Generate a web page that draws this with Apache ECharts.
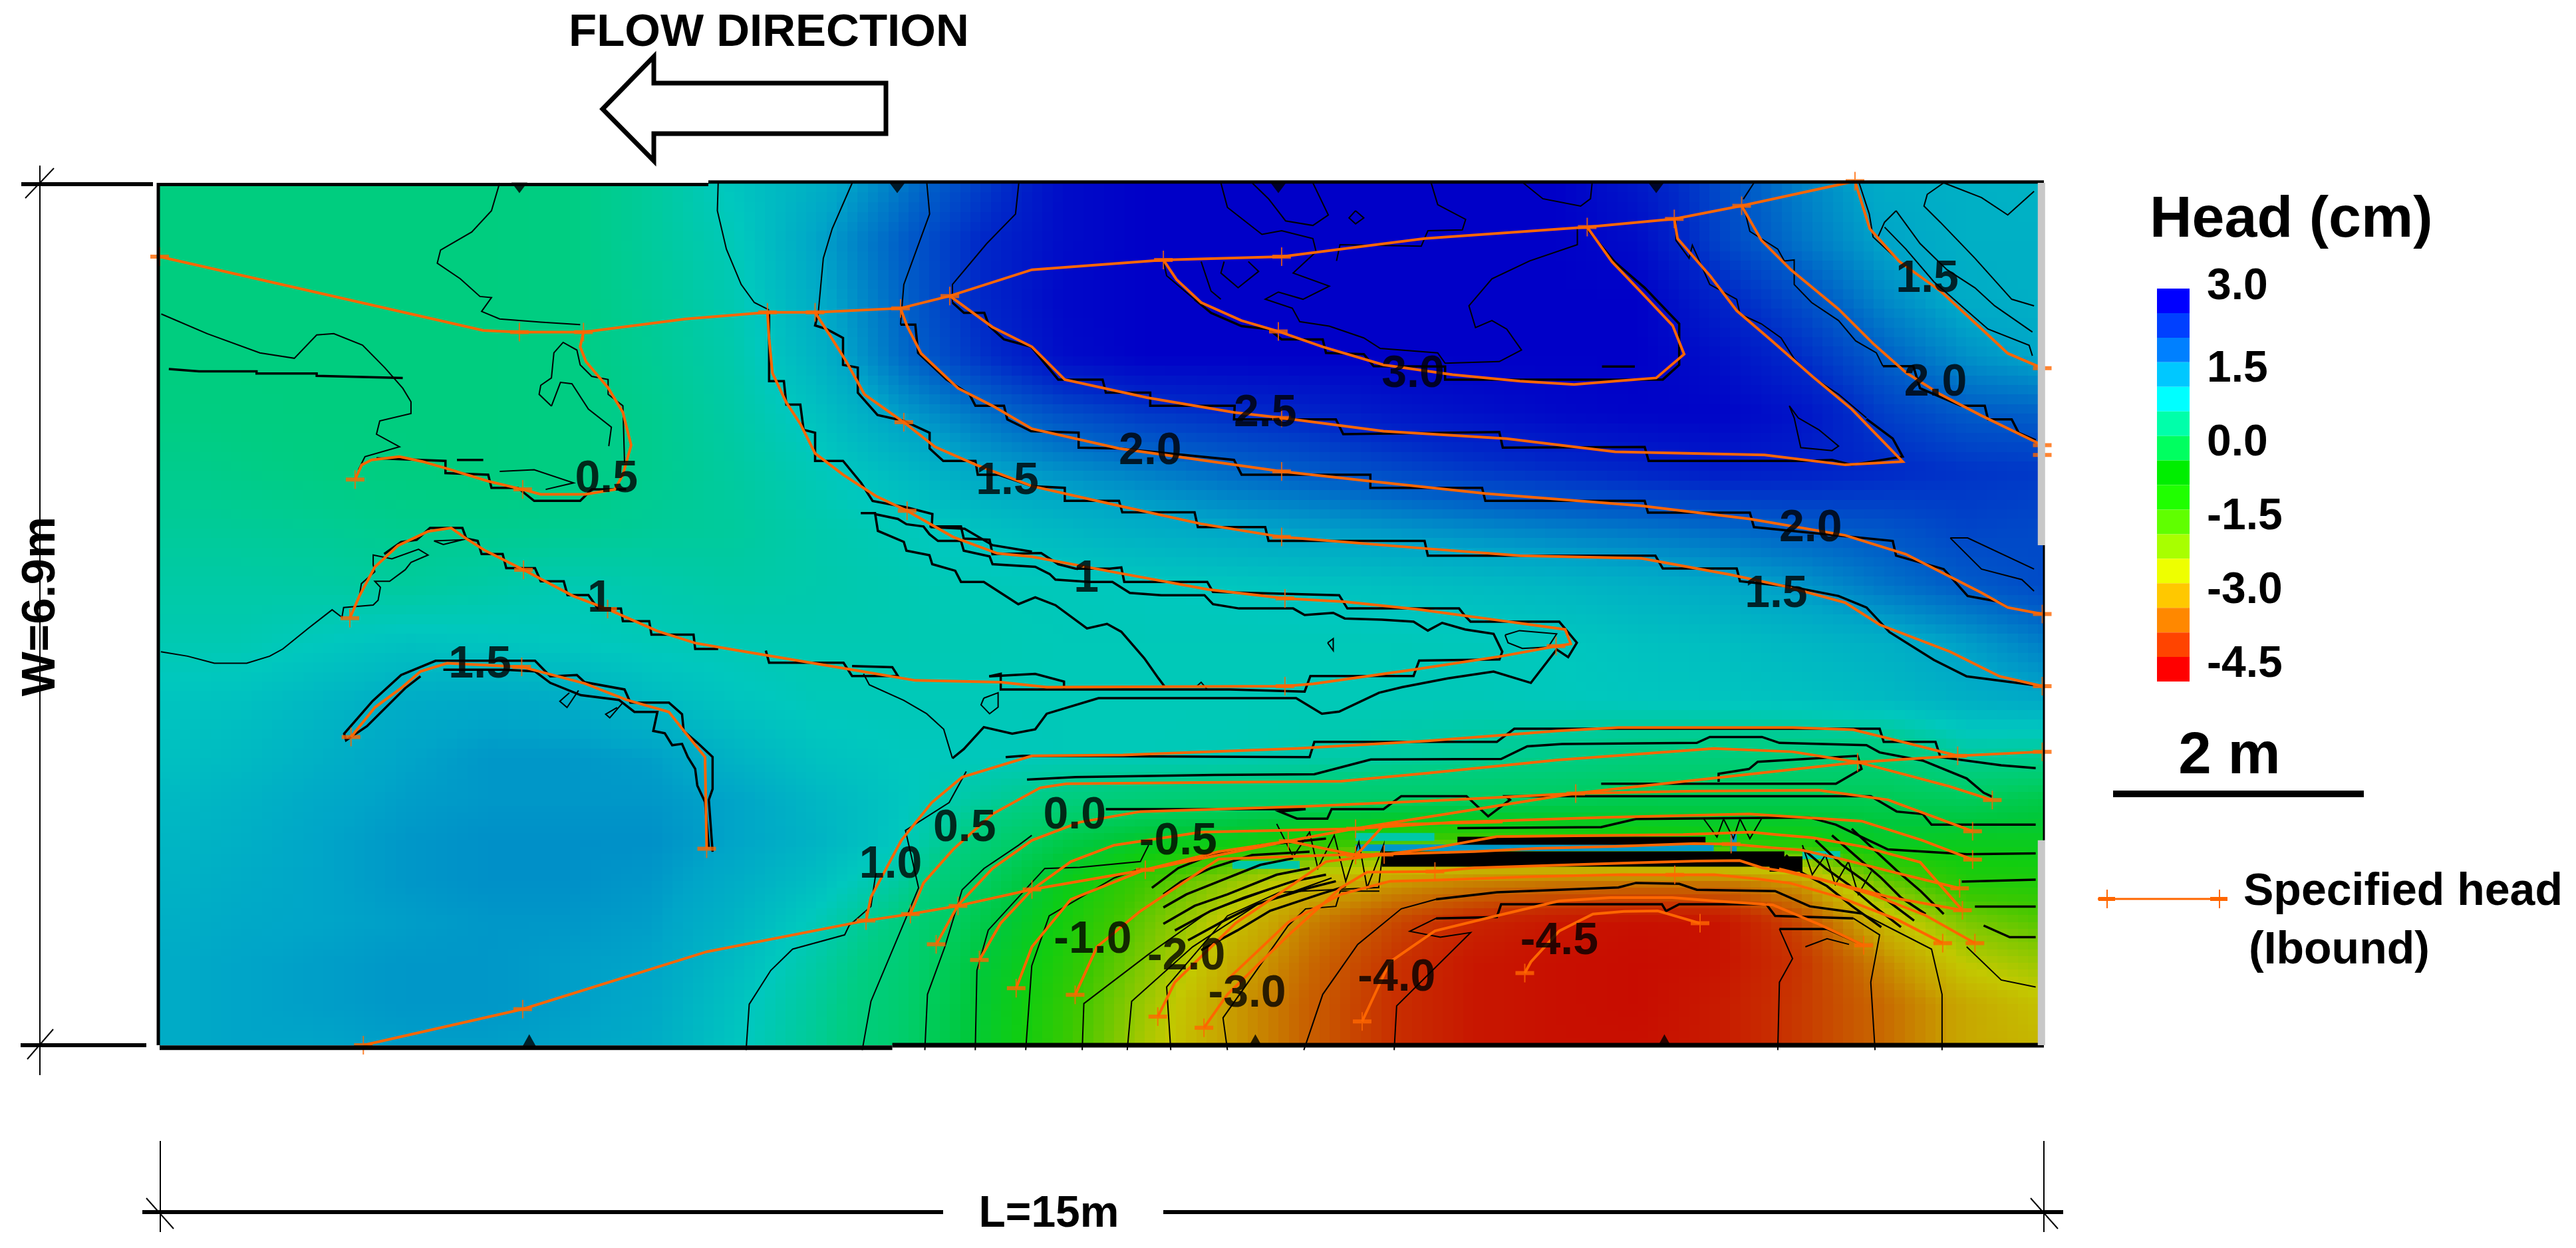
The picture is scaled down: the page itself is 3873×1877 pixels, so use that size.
<!DOCTYPE html>
<html>
<head>
<meta charset="utf-8">
<title>Head (cm)</title>
<style>
  html, body { margin: 0; padding: 0; background: #fff; }
  #chart { width: 3873px; height: 1877px; }
</style>
<script src="https://cdn.jsdelivr.net/npm/echarts@6/dist/echarts.min.js"></script>
</head>
<body>
<div id="chart"></div>
<script>
// axis units: 1147 along L=15m, 526 along W=6.9m
const fieldCols = [0, 50, 100, 150, 200, 250, 300, 350, 400, 450, 500, 550, 600, 650, 700, 750, 800, 850, 900, 950, 1000, 1050, 1100, 1150];
const fieldRows = [526, 490, 455, 420, 385, 350, 315, 280, 245, 210, 175, 150, 125, 100, 75, 50, 25, 0];

const headRows = [
  [.45,.45,.45,.45,.45,.5,.72,1.05,1.35,1.8,2.3,2.85,3,3,3,3,3,3,2.7,2.2,1.75,1.4,1.35,1.3],
  [.45,.45,.45,.45,.45,.5,.72,.95,1.5,2,2.5,2.85,3,3,3,3,3,3,2.85,2.25,1.85,1.5,1.35,1.35],
  [.45,.45,.45,.45,.45,.5,.68,.9,1.4,1.95,2.5,2.9,3,3,3,3,3,3,3,2.55,2.15,1.7,1.4,1.35],
  [.45,.45,.45,.45,.45,.5,.65,.85,1.3,1.9,2.4,2.85,3,3,3,3,3,3,3,2.8,2.45,2,1.65,1.45],
  [.5,.47,.45,.45,.45,.5,.6,.8,1.1,1.55,1.85,2.15,2.35,2.45,2.55,2.7,2.8,2.9,2.95,2.95,2.75,2.3,2.05,2],
  [.6,.55,.5,.47,.45,.5,.6,.75,.95,1.2,1.48,1.65,1.78,1.92,2.05,2.2,2.35,2.45,2.55,2.65,2.6,2.5,2.4,2.35],
  [.7,.68,.65,.6,.6,.62,.68,.72,.85,.95,1.1,1.25,1.38,1.48,1.55,1.62,1.7,1.78,1.85,1.93,2.02,2.1,2.25,2.2],
  [.8,.8,.78,.72,.8,.9,.85,.8,.85,.9,.95,.97,1,1.02,1.07,1.12,1.18,1.25,1.35,1.45,1.6,1.85,2.05,2.2],
  [.9,.9,1,1.1,1.05,1,.95,.92,.9,.9,.92,.95,.95,.95,.95,.95,.97,1,1.1,1.15,1.25,1.35,1.55,1.8],
  [1.05,1.1,1.25,1.4,1.45,1.4,1.2,1.05,.95,.95,.95,.95,.95,.95,.95,.95,.95,.98,1.02,1.05,1.1,1.2,1.35,1.45],
  [1.1,1.2,1.35,1.5,1.6,1.6,1.55,1.3,1.1,1,.98,.95,.95,.92,.85,.75,.65,.55,.4,.35,.35,.3,.7,.6],
  [1.2,1.3,1.45,1.55,1.6,1.6,1.6,1.5,1.25,1.05,.75,.45,.3,.2,.12,.05,0,-.1,-.2,-.2,-.2,-.2,-.1,-.35],
  [1.25,1.35,1.5,1.6,1.65,1.65,1.65,1.5,1.3,1.02,.35,-.3,-.7,-.85,-1.2,-1.5,-1.6,-1.4,-1.2,-1.1,-1.1,-.7,-.8,-.8],
  [1.3,1.4,1.5,1.6,1.65,1.65,1.6,1.4,1.15,.75,0,-.85,-1.5,-2.1,-2.7,-3,-3.2,-3.3,-3.3,-3.3,-3,-1.8,-1.2,-1.15],
  [1.35,1.45,1.5,1.55,1.6,1.6,1.55,1.3,.95,.45,-.3,-1.05,-1.8,-2.55,-3.25,-3.75,-4.15,-4.35,-4.45,-4.4,-3.75,-2.7,-1.95,-1.65],
  [1.4,1.5,1.55,1.6,1.6,1.55,1.5,1.2,.8,.3,-.5,-1.2,-2,-2.8,-3.45,-3.95,-4.35,-4.45,-4.5,-4.4,-3.95,-3.2,-2.45,-2.15],
  [1.4,1.5,1.55,1.6,1.6,1.55,1.45,1.1,.7,.2,-.6,-1.35,-2.2,-3,-3.55,-4,-4.35,-4.45,-4.5,-4.3,-3.9,-3.45,-2.9,-2.55],
  [1.4,1.5,1.5,1.55,1.55,1.5,1.4,1.05,.65,.15,-.65,-1.4,-2.3,-3,-3.55,-4,-4.35,-4.45,-4.45,-4.3,-3.9,-3.45,-2.9,-2.7]
];

// colour of the field against head
const fieldStops = [
  [-4.5,[200,12,0]],[-4,[200,48,0]],[-3.5,[200,100,0]],[-3,[200,160,0]],[-2.5,[195,200,0]],[-2,[130,200,0]],
  [-1.5,[60,200,0]],[-1,[16,205,16]],[-.5,[0,200,60]],[0,[0,205,100]],[.5,[0,205,130]],[1,[0,200,190]],
  [1.5,[0,165,200]],[2,[0,96,200]],[2.5,[0,40,200]],[3,[0,0,200]]
];

// colour bar, top to bottom
const legendLabels = ["3.0", "", "", "1.5", "", "", "0.0", "", "", "-1.5", "", "", "-3.0", "", "", "-4.5"];
const legendColors = ["#0000ff","#0040ff","#0080ff","#00c8ff","#00ffff","#00ffaa","#00ff60","#00ee00","#20ff00","#60ff00","#a8ff00","#eeff00","#ffc800","#ff8800","#ff4400","#ff0000"];

const contourLabels = [
  [272,345,"0.5"],[268,272,"1"],[195,232,"1.5"],[516,344,"1.5"],[603,362,"2.0"],[673,385,"2.5"],[763,409,"3.0"],
  [1076,467,"1.5"],[1081,404,"2.0"],[1005,315,"2.0"],[984,275,"1.5"],[564,284,"1"],[445,110,"1.0"],[490,132,"0.5"],
  [557,140,"0.0"],[620,124,"-0.5"],[568,64,"-1.0"],[625,54,"-2.0"],[662,31,"-3.0"],[753,41,"-4.0"],[852,63,"-4.5"]
];

const topSensors = [[219,523],[449,523],[681,523],[911,523]];
const bottomSensors = [[225,3],[667,3],[916,3]];

// specified head (Ibound)
const headLines = [
  [[0,481],[197,436],[219,435],[258,435],[320,443],[370,447],[399,447],[451,449.5],[481,457],[531,473],[611,479],[683,481],[770,492],[869,499],[922,504],[963,512],[1032,527]],
  [[258,435],[256,426],[259.5,417],[273,401],[282,386],[287,366],[282,348],[277,339],[259,336],[232,336],[221,339],[200,344],[174,352],[160,356],[146,359],[129,357],[123,354],[119,345]],
  [[370,447],[371,431],[373,410],[381.5,392],[390,379],[399,361],[416,348],[436,335],[455,326],[483,310],[510,300],[531,298],[584,288],[638,278],[685,272.5],[721.4,270.5],[766.7,265.7],[812,259.6],[855.6,253.6],[859,244.8],[850.4,243.4],[817,237.3],[763,229],[702.2,220.4],[685,219],[540,218.4],[512,221.4],[460,222.5],[421.5,229],[348.3,241.4],[326,245.3],[303,252.6],[272.7,266],[251.7,274],[221.5,290],[198,301.8],[186.7,309],[177.4,315.5],[163.4,313.4],[145,304.7],[131,291.7],[121.6,274],[115.8,260.5]],
  [[399,447],[408,433],[418,417],[429,397],[453,380],[472,365],[497,354],[531,341],[584,329],[634,318],[683,310],[770,303],[828,298.6],[902,297],[956,287],[989,280],[1026,270],[1047,256.5],[1090,240],[1120,225],[1146,219]],
  [[451,449.5],[455,438.6],[463.5,422],[486,400.7],[507,390],[531,376],[584,364],[683,350],[737,344],[807,336.5],[902,329],[968,321],[1026,311],[1063,299.5],[1109,276],[1125,267],[1146,263]],
  [[481,457],[507,438],[531,426],[551,406],[601,395],[654,386],[683,382.6],[745,374.5],[820,370],[886,362],[977,360],[1026,354],[1061,356],[1030,388],[1006,408],[981,430],[960,448],[944,469],[924,492],[922,504]],
  [[869,499],[884,478],[904,457],[921,439],[928,421.5],[911,407],[886,405],[861,403],[828,405],[787,409],[745,415],[708,426],[681,435.4],[658.5,442],[634,453],[619,467],[611,479]],
  [[963,512],[975,491],[993,473],[1022,449],[1043,428],[1063.4,410],[1084,397],[1109,384],[1146,366]],
  [[1032,527],[1041,498],[1059,478],[1084,460],[1109,437],[1125,422],[1146,413]],
  [[116.5,188],[131,206],[147,217.8],[158.8,228],[175,233],[220.4,230.8],[258.7,220.7],[284.3,210.6],[310,203.3],[321.5,188.8],[332,175.8],[333,119.8]],
  [[124,0],[221,22],[333,57],[430,76],[457,80],[486,85],[531,95],[600,107],[687,124.5],[727,132],[861.6,153.6],[1033.6,172.6],[1094.5,176.5],[1146,179]],
  [[430,76],[433,90.4],[451.5,125],[470,148],[488.5,163.5],[531,176.5],[586.4,177],[692,181],[772,185.6],[851,191.7],[888,193.8],[994,193.8],[1031,192.4],[1057.4,185.9],[1094.5,176.5]],
  [[457,80],[465,99],[483,119.4],[507,141],[536,157],[552,159.5],[719,161],[772,166],[851,174],[946,181],[994,179],[1034,172.6],[1089,158],[1115.6,149.5]],
  [[472.7,61.5],[486,85.4],[507,107.8],[531,125],[560,136],[597,142.5],[698,145.7],[788,149.7],[862,153.6],[936,155],[1010,155.5],[1052,149.7],[1103.6,130.5]],
  [[499,52],[512,74.5],[531,94.8],[554.7,112],[581,122],[634,130],[727,132],[787.5,136],[877.5,138.9],[967.5,141],[1036,136.7],[1073,125],[1103.6,113.2]],
  [[521.4,34.8],[531,60],[554.7,89],[599.7,107],[644.7,118],[687,124.5],[728,116],[800.4,118.1],[838,120],[886,121.3],[934,123],[956.6,122.7],[982.4,120.4],[999.5,119],[1023.6,113.6],[1058,104.9],[1095.7,95.7]],
  [[557.3,30.7],[570.6,60],[597,81.8],[644.7,113.6],[729,116.5],[745.4,134.6],[817.5,136.2]],
  [[607.6,17.4],[618,38.4],[655,74.5],[687,96.2],[710,112],[745.4,116.3],[776.3,120.4],[814,127.2],[927.4,128.5],[968.7,130],[984,128.5],[1006.4,126.5],[1037.3,121],[1071.7,111.6],[1097.4,82.3]],
  [[635.7,10.6],[650,31],[687,67],[719,96],[735,105.5],[776.3,106],[800.4,108.2],[845,109.6],[889.6,111],[936,112.3],[961.8,112.6],[975.5,108.2],[989.3,106],[1023.6,98],[1054.5,90],[1097.4,82.3]],
  [[650,40],[687,75],[719,92],[748.9,100],[779.8,100.8],[834.7,102.8],[889.6,104],[922.3,103.9],[946.3,104],[972,101.5],[992.7,98.8],[1023.6,90],[1058,76.5],[1085.4,62.3]],
  [[985.8,107.6],[1013,100.8],[1044,91.3],[1075,79.2],[1105,62.3]],
  [[732,14.5],[748.9,50.8],[776.3,69.7],[814,79],[852,88],[883,90],[920.6,90],[946.3,88],[982,85.6],[1010,73.8],[1037.3,60.9]],
  [[831,44],[834.7,50.8],[852,69.7],[872.5,80],[891.4,81.6],[912,81.9],[937.7,74.4]]
];

const headNodes = [
  [0,481],[219,435],[258,435],[370,447],[399,447],[451,449.5],[481,457],[611,479],[683,481],[869,499],[922,504],[963,512],[1032,527],
  [119,345],[221,339],[455,326],[453,380],[681,435.4],[683,382.6],[683,350],[683,310],[685,272.5],[685,219],[850,243.4],
  [115.8,260.5],[221.5,290],[272.7,266],[116.5,188],[220.4,230.8],[333,119.8],[124,0],[221,22],[430,76],[457,80],[486,85],
  [472.7,61.5],[499,52],[531,95],[521.4,34.8],[557.3,30.7],[607.6,17.4],[635.7,10.6],[732,14.5],[831,44],[600,107],[687,124.5],
  [728,132],[862,153.5],[1033.6,172.6],[1094.5,176.5],[1146,179],[1115.6,149.5],[1103.6,130.5],[1103.6,113.2],[1095.7,95.7],
  [1097.4,82.3],[1085.4,62.3],[1105,62.3],[1037.3,60.9],[937.7,74.4],[728,116],[745.4,116.3],[776.3,106],[922.3,103.9],[956.6,122.7],
  [1146,413],[1146,366],[1146,360],[1146,263],[1146,219]
];

// thin black contours
const thinContours = [
  [[207,526],[202,509],[190,496],[171,485],[169,477],[183,467.5],[195,456.7],[202,456],[196,447.6],[207,443],[232,441],[256,439.5]],
  [[1,446],[29,434],[61,422.3],[82,419],[95.6,433.2],[106,434],[123.5,427],[137,413.3],[148,400.7],[153,392.5],[153,385.3],[134,380.8],[132,372.7],[146,365],[125,359],[121,351]],
  [[238.5,389.8],[231,397],[232,402.5],[238.5,407],[240,422.3],[245.6,428.7],[254,424],[256,415],[263,408],[273,406],[273,397],[282,390],[283,355.5]],
  [[238.5,389.8],[244,404.3],[251,403.4],[261,388],[275,377],[273.4,365.4]],
  [[207,350],[228,351],[252,343],[235,339]],
  [[340,526],[339.5,509],[345,485.6],[354,464],[362,453],[371,448.5]],
  [[421.6,526],[409.4,498],[404,480],[401,447.6]],
  [[467,526],[468.7,507],[453,464],[451,439.5]],
  [[523,526],[521,507],[503.5,489],[482.6,464],[482.6,453]],
  [[646,526],[650,511],[671,494.6],[683,496.8],[702,492],[704,484],[690,471],[712,463],[696,455],[681,459.4],[673,455],[689.5,449.5],[694,441.3],[712,438.6],[733,431.4],[743,425],[778,422.3],[782.5,416],[815.5,417],[829,424],[820,436.8],[811,442],[801,437.7],[797,451],[811,467.5],[834,478.4],[863,488.3],[863,498]],
  [[665,526],[675,516.3],[685.4,502.8],[702,500],[711.4,506.4],[702,526]],
  [[728,509],[733,504.6],[728,501],[724,504.6],[728,509]],
  [[774,526],[778,512.7],[795,503.7],[793,497.3],[772,496.8],[768,487.4],[718.5,488.3],[716.4,478.4]],
  [[830,526],[842,516.3],[865,511.8],[871,516.3],[872,526]],
  [[611,478.4],[613,469.3],[630,454.9]],[[634,478],[640,460],[646,455]],
  [[648,478],[646,471],[656.5,462],[669,472],[662.7,478]],
  [[992,390],[997.5,382.6],[1010,375.4],[1022,365.4],[1018,362.7],[999,364.5],[995,382.6],[992,390]],
  [[970.5,526],[964,516]],[[923,505],[923,491],[931,480],[933,488],[943.6,464],[960,455],[962,446],[975,440],[987,431.4],[995,418.7],[1005.6,408],[1022,397],[1039,382.6]],
  [[964,512.7],[968,496.4],[985,485.6],[989,478.4],[995,479],[995,464],[1005.6,453],[1022,442],[1032.4,429.6],[1045,422.3],[1049,414.2]],
  [[1034.5,526],[1040.7,507],[1043,493],[1059,478]],
  [[1086,526],[1076,519],[1074,511.8],[1084,501.9],[1105,480],[1127.4,455],[1141,451]],
  [[1086,526],[1109,517],[1125,506.4],[1141,520.8]],
  [[1057,509],[1050,502],[1046,493]],[[1057,509],[1071.6,489],[1088,473],[1105,462],[1117,451],[1140,435]],
  [[1050,499],[1063,485.6],[1080,465.7],[1100.6,447.6],[1113,436.8],[1138,426.9],[1140,420.5]],
  [[1090,309.4],[1100.6,309.4],[1141,290.4]],[[1090,309.4],[1109,290.4],[1133.6,284],[1141,277]],
  [[.75,240],[17,237.3],[33.3,233],[53,233],[67,237.3],[75,241.7],[91,254.7],[105,265.6],[111,261],[112,267],[130,268.5],[133,271.4],[134.4,279.3],[131,283],[140,283],[149.5,290],[153,294.5],[163.4,299],[157.6,302.5],[141.4,296.7],[130,299],[130,293],[131,288.8],[122.8,281.5],[121.6,274]],
  [[167,307.6],[172.7,305.4],[184.3,308.3],[167,307.6]],
  [[255,216.4],[248,206],[243.6,209.8],[249.4,214.9]],[[282,209],[274,199.7],[271.5,201.9],[278.5,206]],
  [[428.5,226.5],[432,219.8],[453,210.3],[466.9,202.2],[477.3,192.7],[482.6,175]],
  [[819,250.2],[827.8,252.9],[850.4,250.9],[845.2,242.8],[829.5,242],[820.8,245.5],[819,250.2]],
  [[501.7,211.7],[510.4,215],[510.4,206.2],[505.2,202.2],[500,207.6],[501.7,211.7]],
  [[711,245.4],[714.4,248],[714.4,240.7],[711,245.4]],
  [[630.7,218.4],[634,221.4],[637.7,217]],
  [[357,-3],[358.9,25],[372,45.6],[385.3,58.6],[417,67.3],[419.7,73],[433,84.7],[436,105]],
  [[427.7,-3],[433,26.8],[448.8,64.4],[462,96],[454,131],[480.6,148],[491,167]],
  [[465.8,-3],[467.4,31],[478,60],[488.5,94.8],[501.8,107.8],[522.9,122],[530.9,128]],
  [[496.5,-3],[497.5,45.6],[504.4,70.2],[538.8,107.8],[560,108.5],[597,112],[602,122]],
  [[527.2,-3],[530.9,48.5],[541.5,78.9],[581,102],[597,107.8]],
  [[561.6,-3],[562.6,25.4],[602.3,55.7],[639,81.7],[687,99]],
  [[589,-3],[591.7,26.8],[628.8,60],[668.5,86],[713.4,102]],
  [[615.5,-3],[613,35.5],[650,78.9],[681.7,93.3],[742.5,96.2]],
  [[650,-3],[647.3,16.7],[687,73],[697.6,83.2],[716,84.7],[718.7,94],[742.5,94]],
  [[696.5,-3],[708,31],[729.3,61.5],[755.8,83.2],[777,89]],
  [[751.5,-3],[753,24],[798,68.7],[779.6,65.9],[761,69.5],[777,77.4]],
  [[1085,-3],[1085,31],[1078.6,58.6],[1036.3,80.3]],
  [[1044.2,-3],[1041.6,38.4],[1047,67.3],[1031,77.4]],
  [[985,-3],[986,38.4],[994,52.8],[986,70.9]],
  [[1001.8,60],[1015,65],[1028.4,61.5]],
  [[1100,60],[1121,39.8],[1142,35.5]],
  [[680,135],[690,115],[700,130],[705,108],[715,128],[722,100],[730,124],[735,96],[745,122],[742,96]],
  [[940,138],[948,127],[952,138],[958,126],[962,138],[968,126],[975,138]],
  [[1000,122],[1006,104],[1014,116],[1020,98],[1028,112],[1034,92],[1042,106]]
];

// black contours that run in cell steps
const stairContours = [
  [[5.6,412.4],[24,411],[59,411],[59,409.7],[95.6,409.7],[95.6,408.3],[148,407]],
  [[132,358],[174,356.4],[174,349],[200,348],[202,340],[218,340],[228,332],[256,332],[263,339],[284,339]],
  [[181,357],[197,357]],[[878,414],[898,414]],
  [[371,448],[371,405],[380,405],[381.5,390.7],[390,390.7],[392,375.4],[399,373.6],[399,356.4],[416,356.4],[427,343],[434,332],[455,328],[470.4,324],[470,316],[490,315],[507,305],[531,301]],
  [[401,447.6],[399,439],[406,436.8],[416,431.4],[416,415],[425,413.3],[425,398],[437,384.4],[453,380.8],[468.7,373.6],[468.7,364],[477,356.4],[496.6,356.4],[498,348],[510.5,348],[531,341],[551,340],[551,332],[584,332],[586,325],[630,325],[632,316],[673,316],[675,307.6],[770,307.6],[772,298.6],[910.5,298.6],[915,290.8],[960,290.8],[962,283],[993,279.6],[1022,274],[1039,267],[1053,252],[1080,235],[1100,225],[1146,219]],
  [[451,439.5],[460,439.5],[461.7,422.3],[479,406],[493,397],[496.6,390],[514,390],[516,381.7],[530.5,374.5],[559.4,373.6],[559.4,364.5],[584,364],[654,357],[658.6,348],[737,348],[737,340],[805,340],[807,332],[904,332],[906,324.8],[968,324.8],[970.5,316],[1055,307.6],[1057,298.6],[1086,290.4],[1100.6,274],[1119,270.6],[1125,267]],
  [[482.6,453],[489.6,446.7],[502,446.7],[505,438.6],[514,430.5],[530.5,426],[547,406],[574,406],[576,398],[603,398],[603,390],[654.4,390],[654,381.7],[716,381.7],[720.5,372.7],[815.5,374],[817.6,364.5],[904,364.9],[906.4,356.4],[1001.4,356.4],[1018,357],[1030,354],[1061,359],[1055,370],[1039,382]],
  [[630,455],[640,446.7],[658.6,438.6],[675,436.8],[683,430.5],[708,430.5],[710,422.3],[733,421.5],[739,414.2],[782.5,414],[782.5,406],[915,406],[925,415],[925,440],[904,462],[886,477.5],[869,498]],
  [[1049,414.2],[1067.5,414.2],[1071.6,400.7],[1096.5,390],[1111,390],[1113,381.7],[1127.4,381.7],[1131.6,373.6],[1142,369]],
  [[158.8,225],[149.5,217.8],[126.2,194.6],[113.5,186],[112.3,190],[129.7,210],[147,225.8],[168,234.5],[228.5,234.5],[237.8,225],[254,225.8],[258.7,221.4],[283,217],[286.6,209],[310,209],[318,201.9],[319,191.7],[327.3,184.5],[336.6,175.8],[336.6,156.3],[334.3,149.7],[336.6,118]],
  [[172.7,229],[210,229],[228.5,228],[237.8,221],[256.4,213.5],[279.6,210.6],[289,203.3],[303,203.3],[300.5,191.7],[307.5,190.3],[312,183],[318,183.8],[321.5,175.8],[326,168.6],[327.3,158.4],[332,148.3],[334.3,120.8]],
  [[136.7,299.6],[147,306.9],[156.5,308.3],[164.6,315.5],[184.3,315.5],[186.7,309],[193.6,307.6],[196,299.6],[208.8,299.6],[211,291],[228.5,291],[232,283],[246,283],[248.3,274.6],[261,274.6],[266.8,266.3],[280.8,266.3],[282,258.6],[298,258.6],[299.4,250.4],[325,250.4],[326,241.7],[340,241.7]],
  [[426.8,324.5],[435.5,324.5],[437.2,313.7],[453,307],[454.6,301.6],[468.6,298.9],[470.3,293.4],[484.3,289.4],[487.8,282.6],[501.7,282.6],[522.7,269],[533,273.2],[545.3,268.4],[564.5,254.2],[576.7,257],[585.4,252.2],[599.4,236],[608,223.8],[611.6,219]],
  [[435.5,323.9],[449.4,321],[454.6,317.8],[465,316.4],[468.6,311.7],[473.8,307.6],[487.8,307.6],[489.5,301.6],[505.2,298.2],[507,293.4],[533,291.8],[541.8,287.4],[545.3,284],[566,282.6],[580,282.6],[590.6,275.9],[609.8,274.5],[636,274.5],[641.2,269],[657,266.4],[690,266.4],[697,262.4],[714.4,263.7],[721.4,260.3],[744,259.6],[763.3,258.3],[772,252.9],[780.7,257.6],[794.7,253.6],[812,250.9],[817.3,240],[815.6,235.3],[766.7,234.6],[763.3,225.2],[700.5,225.2],[697,215.7],[651.7,217],[512,217],[512,226.5],[505,225]],
  [[468.6,316.4],[487.8,316.4],[489.5,309],[505.2,308.3],[507,299.5],[536.6,300.2],[547,293.4],[557.5,290.7],[578.5,290.7],[585.4,291.4],[587.2,282.6],[637.7,282.6],[641.2,276.5],[718,274.5],[723,266.4],[791,266.4],[794.7,261.7],[798,258.3],[852,258.3],[862.7,245.5],[857.4,236.7],[850.4,241.4],[834.7,221],[812,227.9],[784.2,223.8],[756.3,218.4],[742.3,215],[718,203.5],[707.5,202.2],[691.8,211.7],[571.5,211.7],[540,202.2],[533,192.7],[519,190],[501.7,194],[489.5,180.6],[482.6,175]],
  [[369,240.7],[371,233.3],[416.3,233.3],[421.5,225.2],[449.4,225.2],[446,230.6],[421.5,231.3]],
  [[505,225],[533,226.5],[550.5,221.8],[550.5,217]],
  [[515,175.7],[525.6,176.5],[700,175.7],[702.9,185],[814,185],[824.6,193],[1047,193],[1049.5,185],[1081,185],[1084,175.7],[1121,170.7],[1142,169]],
  [[528,162],[557.3,163.5],[642,164.9],[702.9,165.3],[737.3,174.3],[816.6,174.6],[832.5,182.3],[853.7,183.7],[935.7,184.4],[943.6,188],[975.4,188],[986,184.4],[1039,183],[1047,178.6],[1073.3,173.6],[1100,162.7],[1110.3,154],[1115.6,151.5]],
  [[877.5,159.5],[1020.4,159.5],[1036,168.5],[1033.6,176.5],[972.8,172.9],[967.5,168.5],[949,165.6],[949,160.6]],
  [[576,144],[697.6,144],[681.7,142.5],[692.3,138.2],[710.8,138.2],[713.4,144],[745,144],[755.8,151.9],[795.5,151.9],[808.7,139.6],[822,149.7],[819.3,151.9],[1041.6,151.9],[1057.4,142.5],[1073.3,141],[1078.6,134.5],[1142,134.5]],
  [[790,132.4],[877.5,133],[898.7,138],[1004.5,138.9],[1020.4,134.5],[1052,119.4],[1100,116.5],[1142,117]],
  [[1097,99.8],[1142,101]],[[1105,84.6],[1142,84.6]],[[1110.3,73],[1126.2,65.9],[1142,65.9]],
  [[777,89],[814,93.3],[888,96.2],[898.7,99],[925,98.4],[935.7,94.8],[983.4,94],[1004.5,84.7],[1036.3,80.3]],
  [[777,77.4],[814,78.2],[816.6,86],[893.4,86],[914.5,86],[917,81.8],[925,86],[978,86],[983.4,78.9],[1031,77.4]],
  [[986,70.9],[1015,70.9],[1036,61.5]],
  [[611,74],[630,85],[650,92],[680,104],[700,108]],[[618,70],[640,82],[660,90],[690,100],[710,104]],
  [[626,64],[648,76],[668,86],[700,96],[716,100]],[[634,58],[656,70],[676,82],[706,92],[722,97]],
  [[611,84],[625,92],[645,100],[670,110],[690,114]],[[611,92],[622,100],[640,108],[665,116],[700,118]],
  [[604,96],[620,108],[640,116],[670,122],[710,126]],
  [[990,116],[1000,105],[1015,97],[1030,85],[1048,72]],[[1000,120],[1014,108],[1028,98],[1042,86],[1060,72]],
  [[1008,125],[1024,110],[1038,100],[1052,88],[1068,76]],[[1018,128],[1034,114],[1048,102],[1060,90],[1075,80]],
  [[1030,132],[1045,118],[1058,106],[1072,94],[1086,80]]
];

// the squeezed contours under the river reach
const bandMain = [[[744,113.6],[989,113.6]],[[980,110.5],[1000,110.5]]];
const bandUpper = [[[790,124.7],[941,124.7]]];
const bandBlue = [[[728,120.4],[800,120.4]],[[800,120.4],[946,120.4]],[[958,118],[958,129]]];
const bandTeal = [[[728,127],[776,127]],[[653,110],[694,110]],[[1000,116],[1023,116]]];

const frameTop = [[[0,525],[334,525]],[[334,526.5],[1147,526.5]],[[-.8,526],[-.8,0]]];
const frameBottom = [[[0,-1.5],[446,-1.5]],[[446,0],[1147,0]]];
const frameRightGrey = [[[1145.5,526],[1145.5,305]],[[1145.5,125],[1145.5,0]]];
const frameRightBlack = [[[1147,305],[1147,125]]];

const plotLeft = 240, plotTop = 275, plotWidth = 2833, plotHeight = 1297;
const black = "#000", orange = "#ff6600";
const labelFont = '"Liberation Sans", Arial, sans-serif';

function headColor(h) {
  let i = 0;
  while (i < fieldStops.length - 2 && h > fieldStops[i + 1][0]) i++;
  const [h0, c0] = fieldStops[i], [h1, c1] = fieldStops[i + 1];
  const t = Math.max(0, Math.min(1, (h - h0) / (h1 - h0)));
  return `rgb(${c0.map((c, k) => Math.round(c + (c1[k] - c) * t)).join(",")})`;
}

// one data item per pair of field rows and columns, shaded between its corners
const fieldCells = [];
for (let j = 0; j < fieldRows.length - 1; j++) {
  for (let i = 0; i < fieldCols.length - 1; i++) fieldCells.push([i, j]);
}

function renderFieldCell(params, api) {
  const i = api.value(0), j = api.value(1);
  const nu = 8, nv = 6, children = [];
  for (let a = 0; a < nu; a++) {
    for (let b = 0; b < nv; b++) {
      const s = (a + .5) / nu, t = (b + .5) / nv;
      const h = (1 - t) * ((1 - s) * headRows[j][i] + s * headRows[j][i + 1]) + t * ((1 - s) * headRows[j + 1][i] + s * headRows[j + 1][i + 1]);
      const cu = fieldCols[i + 1] - fieldCols[i], cv = fieldRows[j + 1] - fieldRows[j];
      const p0 = api.coord([fieldCols[i] + cu * a / nu, fieldRows[j] + cv * b / nv]);
      const p1 = api.coord([fieldCols[i] + cu * (a + 1) / nu, fieldRows[j] + cv * (b + 1) / nv]);
      children.push({
        type: "rect",
        silent: true,
        shape: { x: Math.floor(p0[0]), y: Math.floor(p0[1]), width: Math.ceil(p1[0] - p0[0]) + 1, height: Math.ceil(p1[1] - p0[1]) + 1 },
        style: { fill: headColor(h) },
      });
    }
  }
  return { type: "group", children };
}

function polylines(lines, color, width, z) {
  return {
    type: "lines",
    coordinateSystem: "cartesian2d",
    polyline: true,
    silent: true,
    clip: false,
    z,
    lineStyle: { color, width, opacity: 1, cap: "butt", join: "miter" },
    data: lines.map((coords) => ({ coords })),
  };
}

function hText(text, x, y, size, align) {
  return {
    type: "text",
    silent: true,
    style: { text, x, y, fill: black, align: align || "left", verticalAlign: "middle", font: `bold ${size}px ${labelFont}` },
  };
}

function hLine(x1, y1, x2, y2, width, color) {
  return { type: "line", silent: true, shape: { x1, y1, x2, y2 }, style: { stroke: color || black, lineWidth: width } };
}

const chart = echarts.init(document.getElementById("chart"), null, { renderer: "canvas" });

chart.setOption({
  backgroundColor: "#fff",
  animation: false,
  grid: [
    { left: plotLeft, top: plotTop, width: plotWidth, height: plotHeight },
    { left: 3243, top: 434, width: 49, height: 591 },
  ],
  xAxis: [
    { type: "value", min: 0, max: 1147, show: false, gridIndex: 0 },
    { type: "value", min: 0, max: 1, show: false, gridIndex: 1 },
  ],
  yAxis: [
    { type: "value", min: 0, max: 526, show: false, gridIndex: 0 },
    {
      type: "category",
      gridIndex: 1,
      inverse: true,
      position: "right",
      data: legendLabels,
      axisLine: { show: false },
      axisTick: { show: false },
      axisLabel: {
        interval: 0,
        margin: 26,
        formatter: (v) => (v === "3.0" ? `{first|${v}}` : `{rest|${v}}`),
        rich: {
          first: { fontFamily: labelFont, fontWeight: "bold", fontSize: 66, color: black, padding: [0, 0, 42, 0] },
          rest: { fontFamily: labelFont, fontWeight: "bold", fontSize: 66, color: black, padding: [0, 0, 14, 0] },
        },
      },
    },
  ],
  series: [
    {
      type: "custom",
      coordinateSystem: "cartesian2d",
      data: fieldCells,
      renderItem: renderFieldCell,
      progressive: 0,
      silent: true,
      clip: true,
      z: 1,
    },
    polylines(bandTeal, "#00c8a8", 12, 2),
    polylines(bandBlue, "#0098c8", 10, 2),
    polylines(thinContours, black, 2, 3),
    polylines(stairContours, black, 3.5, 3),
    polylines(bandMain, black, 23, 3),
    polylines(bandUpper, black, 12, 3),
    polylines(headLines, orange, 4, 4),
    {
      type: "scatter",
      data: headNodes,
      silent: true,
      clip: false,
      z: 5,
      symbol: "path://M0,11H28V17H0ZM13,0H15V28H13Z",
      symbolSize: 28,
      itemStyle: { color: orange },
    },
    polylines(frameTop, black, 5, 6),
    polylines(frameBottom, black, 7, 6),
    polylines(frameRightGrey, "#c8c8c8", 11, 6),
    polylines(frameRightBlack, black, 3, 6),
    {
      type: "scatter",
      data: topSensors,
      silent: true,
      clip: false,
      z: 7,
      symbol: "triangle",
      symbolRotate: 180,
      symbolSize: [24, 16],
      itemStyle: { color: black },
    },
    {
      type: "scatter",
      data: bottomSensors,
      silent: true,
      clip: false,
      z: 7,
      symbol: "triangle",
      symbolSize: [20, 18],
      itemStyle: { color: black },
    },
    {
      type: "scatter",
      data: contourLabels,
      silent: true,
      clip: false,
      z: 8,
      symbolSize: 0,
      label: {
        show: true,
        position: "inside",
        formatter: (p) => p.value[2],
        fontFamily: labelFont,
        fontWeight: "bold",
        fontSize: 68,
        color: black,
      },
    },
    {
      type: "bar",
      xAxisIndex: 1,
      yAxisIndex: 1,
      silent: true,
      barWidth: "100%",
      data: legendColors.map((color) => ({ value: 1, itemStyle: { color } })),
    },
  ],
  graphic: [
    hText("FLOW DIRECTION", 855, 50, 69),
    {
      type: "polygon",
      silent: true,
      shape: { points: [[906, 164], [983, 85], [983, 125], [1332, 125], [1332, 201], [983, 201], [983, 242]] },
      style: { fill: "#fff", stroke: black, lineWidth: 7 },
    },
    // W dimension
    hLine(60, 249, 60, 1617, 2),
    hLine(32, 277, 230, 277, 6),
    hLine(31, 1572, 220, 1572, 6),
    hLine(81, 253, 38, 298, 2),
    hLine(80, 1548, 41, 1593, 2),
    {
      type: "text",
      silent: true,
      rotation: Math.PI / 2,
      x: 62,
      y: 912,
      style: { text: "W=6.9m", fill: black, align: "center", verticalAlign: "middle", font: `bold 71px ${labelFont}` },
    },
    // L dimension
    hLine(241, 1716, 241, 1853, 2),
    hLine(3073, 1716, 3073, 1853, 2),
    hLine(214, 1823, 1418, 1823, 6),
    hLine(1749, 1823, 3102, 1823, 6),
    hLine(220, 1802, 261, 1848, 2),
    hLine(3053, 1802, 3094, 1848, 2),
    hText("L=15m", 1577, 1827, 66, "center"),
    // legend
    hText("Head (cm)", 3232, 332, 88),
    hText("2 m", 3352, 1138, 89, "center"),
    hLine(3177, 1194, 3554, 1194, 10),
    hLine(3154, 1352, 3349, 1352, 3, orange),
    hLine(3155, 1352, 3180, 1352, 6, orange),
    hLine(3323, 1352, 3349, 1352, 6, orange),
    hLine(3168, 1338, 3168, 1366, 2, orange),
    hLine(3337, 1338, 3337, 1366, 2, orange),
    hText("Specified head", 3373, 1342, 68),
    hText("(Ibound)", 3381, 1430, 68),
  ],
});
</script>
</body>
</html>
